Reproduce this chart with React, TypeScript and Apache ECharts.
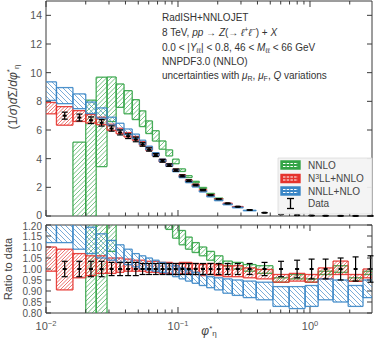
import React, { useEffect, useRef } from "react";
import * as echarts from "echarts";

// ---------------- data ----------------
const binEdges = [0.008, 0.012, 0.016, 0.020, 0.024, 0.029, 0.034, 0.039, 0.045, 0.051, 0.057, 0.064, 0.072, 0.081, 0.091, 0.102, 0.114, 0.128, 0.145, 0.165, 0.189, 0.219, 0.258, 0.312, 0.391, 0.524, 0.695, 0.918, 1.153, 1.496, 1.947, 2.522, 3.277];

const dataValues = [7.2, 7.0, 6.87, 6.68, 6.5, 6.1, 5.83, 5.57, 5.34, 4.99, 4.64, 4.25, 3.85, 3.55, 3.2, 2.8, 2.46, 2.16, 1.81, 1.46, 1.18, 0.88, 0.65, 0.42, 0.23, 0.12, 0.06, 0.035, 0.02, 0.012, 0.007, 0.004];
const dataRelErr = [0.035, 0.035, 0.035, 0.035, 0.035, 0.03, 0.03, 0.03, 0.03, 0.025, 0.025, 0.025, 0.025, 0.025, 0.025, 0.025, 0.025, 0.025, 0.025, 0.025, 0.025, 0.025, 0.025, 0.025, 0.03, 0.035, 0.04, 0.045, 0.045, 0.05, 0.055, 0.06];

// ratios to data (band low / high)
const nnloLow = [null, null, -1.0, -1.0, 0.53, 1.08, 1.30, 1.28, 1.26, 1.25, 1.24, 1.23, 1.21, 1.18, 1.14, 1.11, 1.09, 1.075, 1.06, 1.04, 1.02, 1.013, 1.0, 0.99, 0.98, 0.94, 0.955, 0.94, 0.975, 0.985, 0.945, 0.975];
const nnloHigh = [null, null, 0.75, 1.21, 1.49, 1.59, 1.58, 1.57, 1.52, 1.47, 1.43, 1.40, 1.36, 1.30, 1.24, 1.175, 1.145, 1.12, 1.10, 1.08, 1.06, 1.036, 1.03, 1.02, 1.015, 0.96, 0.975, 0.955, 0.99, 1.015, 0.96, 0.99];

const n3llLow = [0.99, 0.905, 0.96, 0.97, 0.98, 0.98, 0.985, 0.99, 0.99, 0.99, 0.985, 0.985, 0.98, 0.98, 0.975, 0.98, 0.98, 0.975, 0.97, 0.975, 0.97, 0.965, 0.965, 0.96, 0.955, 0.94, 0.945, 0.94, 0.955, 0.975, 0.944, 0.96];
const n3llHigh = [1.10, 1.09, 1.07, 1.06, 1.06, 1.05, 1.05, 1.045, 1.04, 1.04, 1.035, 1.035, 1.03, 1.03, 1.025, 1.03, 1.03, 1.025, 1.02, 1.025, 1.02, 1.015, 1.015, 1.005, 0.998, 0.975, 0.98, 0.975, 1.005, 1.036, 0.975, 1.0];

const nnllLow = [1.12, 1.12, 1.09, 1.07, 1.05, 1.04, 1.03, 1.02, 1.01, 1.0, 0.995, 0.99, 0.985, 0.975, 0.965, 0.955, 0.945, 0.935, 0.925, 0.915, 0.905, 0.89, 0.88, 0.87, 0.86, 0.83, 0.82, 0.83, 0.86, 0.85, 0.83, 0.87];
const nnllHigh = [1.30, 1.28, 1.24, 1.19, 1.16, 1.13, 1.11, 1.09, 1.07, 1.06, 1.05, 1.04, 1.03, 1.025, 1.015, 1.005, 0.995, 0.985, 0.975, 0.965, 0.96, 0.955, 0.95, 0.945, 0.94, 0.92, 0.92, 0.925, 0.955, 0.95, 0.925, 0.95];

const topYTicks = [0, 2, 4, 6, 8, 10, 12, 14];
const ratioYTicks = [0.8, 0.85, 0.9, 0.95, 1.0, 1.05, 1.1, 1.15, 1.2];
const xMajorTicks = [0.01, 0.1, 1];
const xMinorTicks = [0.02, 0.03, 0.04, 0.05, 0.06, 0.07, 0.08, 0.09, 0.2, 0.3, 0.4, 0.5, 0.6, 0.7, 0.8, 0.9, 2];

const legendLabels = ["NNLO", "N{sup|3}LL+NNLO", "NNLL+NLO", "Data"];

// ---------------- styling ----------------
const XMIN = 0.01;
const XMAX = 2.95;
const FONT = "Liberation Sans";
const GREEN = "#34a447";
const RED = "#e5332d";
const BLUE = "#3a86c6";
const AXC = "#3a3a3a";

function bandData(low: (number | null)[], high: (number | null)[], scaleByData: boolean) {
  const out: number[][] = [];
  for (let i = 0; i < low.length; i++) {
    const lo = low[i];
    const hi = high[i];
    if (lo === null || hi === null) continue;
    const f = scaleByData ? dataValues[i] : 1;
    out.push([binEdges[i], binEdges[i + 1], lo * f, hi * f]);
  }
  return out;
}

function bandRenderer(color: string, dir: number, step: number) {
  return (params: any, api: any) => {
    const cs = params.coordSys;
    const x0 = api.value(0), x1 = api.value(1), lo = api.value(2), hi = api.value(3);
    const pA = api.coord([x0, hi]);
    const pB = api.coord([x1, lo]);
    const L = cs.x, R = cs.x + cs.width, T = cs.y, B = cs.y + cs.height;
    const xa = Math.max(pA[0], L), xb = Math.min(pB[0], R);
    const ya = Math.max(pA[1], T), yb = Math.min(pB[1], B);
    if (xb - xa < 0.5 || yb - ya < 0.3) return null;
    const children: any[] = [];
    const hs = { stroke: color, lineWidth: 0.8, opacity: 0.85 };
    if (dir === 1) {
      const cMin = xa + ya, cMax = xb + yb;
      for (let c = Math.ceil(cMin / step) * step; c <= cMax; c += step) {
        const a = Math.max(xa, c - yb), b = Math.min(xb, c - ya);
        if (b > a) children.push({ type: "line", shape: { x1: a, y1: c - a, x2: b, y2: c - b }, style: hs, silent: true });
      }
    } else {
      const cMin = xa - yb, cMax = xb - ya;
      for (let c = Math.ceil(cMin / step) * step; c <= cMax; c += step) {
        const a = Math.max(xa, ya + c), b = Math.min(xb, yb + c);
        if (b > a) children.push({ type: "line", shape: { x1: a, y1: a - c, x2: b, y2: b - c }, style: hs, silent: true });
      }
    }
    const es = { stroke: color, lineWidth: 1.3, opacity: 0.9 };
    if (pA[1] >= T - 0.5) children.push({ type: "line", shape: { x1: xa, y1: pA[1], x2: xb, y2: pA[1] }, style: es });
    if (pB[1] <= B + 0.5) children.push({ type: "line", shape: { x1: xa, y1: pB[1], x2: xb, y2: pB[1] }, style: es });
    if (pA[0] >= L) children.push({ type: "line", shape: { x1: pA[0], y1: ya, x2: pA[0], y2: yb }, style: es });
    if (pB[0] <= R) children.push({ type: "line", shape: { x1: pB[0], y1: ya, x2: pB[0], y2: yb }, style: es });
    return { type: "group", children };
  };
}

function pointData(ratio: boolean) {
  const out: number[][] = [];
  for (let i = 0; i < dataValues.length; i++) {
    const xc = Math.sqrt(binEdges[i] * binEdges[i + 1]);
    if (xc < XMIN || xc > XMAX) continue;
    const v = ratio ? 1 : dataValues[i];
    out.push([xc, v, v * dataRelErr[i]]);
  }
  return out;
}

function pointRenderer(params: any, api: any) {
  const xc = api.value(0), v = api.value(1), e = api.value(2);
  const pc = api.coord([xc, v]);
  const pt = api.coord([xc, v + e]);
  const pb = api.coord([xc, v - e]);
  const st = { stroke: "#000", lineWidth: 1.2 };
  const cw = 3;
  return {
    type: "group",
    children: [
      { type: "line", shape: { x1: pc[0], y1: pt[1], x2: pc[0], y2: pb[1] }, style: st },
      { type: "line", shape: { x1: pc[0] - cw, y1: pt[1], x2: pc[0] + cw, y2: pt[1] }, style: st },
      { type: "line", shape: { x1: pc[0] - cw, y1: pb[1], x2: pc[0] + cw, y2: pb[1] }, style: st },
      { type: "rect", shape: { x: pc[0] - 2, y: pc[1] - 1, width: 4, height: 2 }, style: { fill: "#000" } },
    ],
  };
}

function tickData(yTicks: number[], yRef: number) {
  const out: number[][] = [];
  xMajorTicks.forEach((v) => out.push([v, yRef, 0]));
  xMinorTicks.forEach((v) => { if (v <= XMAX) out.push([v, yRef, 1]); });
  yTicks.forEach((v) => out.push([0.1, v, 2]));
  return out;
}

function tickRenderer(params: any, api: any) {
  const cs = params.coordSys;
  const kind = api.value(2);
  const p = api.coord([api.value(0), api.value(1)]);
  const L = cs.x, R = cs.x + cs.width, T = cs.y, B = cs.y + cs.height;
  const st = { stroke: AXC, lineWidth: 1 };
  if (kind < 2) {
    const len = kind === 0 ? 6 : 3.5;
    return {
      type: "group",
      children: [
        { type: "line", shape: { x1: p[0], y1: B, x2: p[0], y2: B - len }, style: st },
        { type: "line", shape: { x1: p[0], y1: T, x2: p[0], y2: T + len }, style: st },
      ],
    };
  }
  const len = 5;
  return {
    type: "group",
    children: [
      { type: "line", shape: { x1: L, y1: p[1], x2: L + len, y2: p[1] }, style: st },
      { type: "line", shape: { x1: R, y1: p[1], x2: R - len, y2: p[1] }, style: st },
    ],
  };
}

const rich = {
  i: { fontStyle: "italic", fontSize: 10, fontFamily: FONT, fill: "#333" },
  sup: { fontSize: 7, verticalAlign: "top", fontFamily: FONT, fill: "#333" },
  sub: { fontSize: 7, verticalAlign: "bottom", fontFamily: FONT, fill: "#333" },
};

function annText(y: number, text: string) {
  return {
    type: "text",
    x: 162,
    y,
    z: 50,
    style: { text, fontSize: 10, fontFamily: FONT, fill: "#333", verticalAlign: "middle", rich, lineHeight: 13 },
  };
}

function legendPatch(y: number, color: string) {
  return [
    { type: "rect", z: 110, shape: { x: 281, y: y - 4, width: 19, height: 8 }, style: { fill: color, stroke: color, lineWidth: 1.4 } },
    { type: "line", z: 111, shape: { x1: 283, y1: y - 1.5, x2: 298, y2: y - 1.5 }, style: { stroke: "#fff", lineWidth: 1, lineDash: [2.5, 1.2] } },
    { type: "line", z: 111, shape: { x1: 283, y1: y + 1.5, x2: 298, y2: y + 1.5 }, style: { stroke: "#fff", lineWidth: 1, lineDash: [2.5, 1.2] } },
  ];
}

function legendText(y: number, text: string) {
  return {
    type: "text",
    x: 308,
    y,
    z: 110,
    style: { text, fontSize: 10, fontFamily: FONT, fill: "#444", verticalAlign: "middle", rich: { sup: { fontSize: 7, verticalAlign: "top", fill: "#444" } }, lineHeight: 12 },
  };
}

function xLabelFormatter(v: number) {
  const l = Math.log10(v);
  const e = Math.round(l);
  if (Math.abs(l - e) > 1e-6) return "";
  return "10{s|" + (e < 0 ? "\u2212" + -e : String(e)) + "}";
}

const mathRich = {
  i: { fontStyle: "italic", fontSize: 12, fontFamily: FONT, fill: "#444" },
  sup: { fontSize: 8, verticalAlign: "top", fill: "#444", fontFamily: FONT },
  sub: { fontSize: 8, verticalAlign: "bottom", fill: "#444", fontFamily: FONT },
};

const option: any = {
  animation: false,
  backgroundColor: "#fff",
  grid: [
    { left: 46, top: 1, width: 326, height: 215, show: true, borderColor: AXC, borderWidth: 1, backgroundColor: "transparent" },
    { left: 46, top: 225, width: 326, height: 88, show: true, borderColor: AXC, borderWidth: 1, backgroundColor: "transparent" },
  ],
  xAxis: [
    { type: "log", gridIndex: 0, min: XMIN, max: XMAX, logBase: 10, axisLine: { show: false }, axisTick: { show: false }, axisLabel: { show: false }, splitLine: { show: false } },
    {
      type: "log", gridIndex: 1, min: XMIN, max: XMAX, logBase: 10,
      axisLine: { show: false }, axisTick: { show: false }, splitLine: { show: false },
      axisLabel: {
        formatter: xLabelFormatter, color: "#555", fontSize: 11, fontFamily: FONT, margin: 6, lineHeight: 14,
        rich: { s: { fontSize: 7.5, verticalAlign: "top", color: "#555", fontFamily: FONT, lineHeight: 14 } },
        showMaxLabel: false,
      },
    },
  ],
  yAxis: [
    {
      type: "value", gridIndex: 0, min: 0, max: 15, interval: 2,
      axisLine: { show: false }, axisTick: { show: false }, splitLine: { show: false },
      axisLabel: {
        color: "#555", fontSize: 10.5, fontFamily: FONT, margin: 4, lineHeight: 10,
        formatter: (v: number) => (v > 14.5 ? "" : v === 0 ? "{z|0}" : String(v)),
        rich: { z: { fontSize: 10.5, color: "#555", fontFamily: FONT, padding: [0, 0, 3, 0], lineHeight: 10 } },
      },
    },
    {
      type: "value", gridIndex: 1, min: 0.8, max: 1.2, interval: 0.05,
      axisLine: { show: false }, axisTick: { show: false }, splitLine: { show: false },
      axisLabel: {
        color: "#555", fontSize: 10, fontFamily: FONT, margin: 4, lineHeight: 10,
        formatter: (v: number) => (Math.abs(v - 1.2) < 1e-6 ? "{t|1.20}" : v.toFixed(2)),
        rich: { t: { fontSize: 10, color: "#555", fontFamily: FONT, padding: [2, 0, 0, 0], lineHeight: 10 } },
      },
    },
  ],
  series: [
    { type: "custom", name: "NNLO", xAxisIndex: 0, yAxisIndex: 0, data: bandData(nnloLow, nnloHigh, true), renderItem: bandRenderer(GREEN, 1, 4.5), z: 2 },
    { type: "custom", name: "N3LL+NNLO", xAxisIndex: 0, yAxisIndex: 0, data: bandData(n3llLow, n3llHigh, true), renderItem: bandRenderer(RED, 1, 3.5), z: 3 },
    { type: "custom", name: "NNLL+NLO", xAxisIndex: 0, yAxisIndex: 0, data: bandData(nnllLow, nnllHigh, true), renderItem: bandRenderer(BLUE, -1, 5), z: 4 },
    { type: "custom", name: "Data", xAxisIndex: 0, yAxisIndex: 0, data: pointData(false), renderItem: pointRenderer, z: 6 },
    { type: "custom", name: "NNLO r", xAxisIndex: 1, yAxisIndex: 1, data: bandData(nnloLow, nnloHigh, false), renderItem: bandRenderer(GREEN, 1, 4.5), z: 2 },
    { type: "custom", name: "N3LL+NNLO r", xAxisIndex: 1, yAxisIndex: 1, data: bandData(n3llLow, n3llHigh, false), renderItem: bandRenderer(RED, 1, 3.5), z: 3 },
    { type: "custom", name: "NNLL+NLO r", xAxisIndex: 1, yAxisIndex: 1, data: bandData(nnllLow, nnllHigh, false), renderItem: bandRenderer(BLUE, -1, 5), z: 4 },
    { type: "custom", name: "Data r", xAxisIndex: 1, yAxisIndex: 1, data: pointData(true), renderItem: pointRenderer, z: 6 },
    { type: "custom", name: "ticks top", xAxisIndex: 0, yAxisIndex: 0, data: tickData(topYTicks, 5), renderItem: tickRenderer, z: 8, silent: true },
    { type: "custom", name: "ticks ratio", xAxisIndex: 1, yAxisIndex: 1, data: tickData(ratioYTicks, 1), renderItem: tickRenderer, z: 8, silent: true },
  ],
  graphic: [
    annText(17, "RadISH+NNLOJET"),
    annText(32, "8 TeV, {i|pp} \u2192 {i|Z}(\u2192 {i|\u2113}{sup|+}{i|\u2113}{sup|\u2212}) + {i|X}"),
    annText(47, "0.0 < |{i|Y}{sub|\u2113\u2113}| < 0.8, 46 < {i|M}{sub|\u2113\u2113} < 66 GeV"),
    annText(61.5, "NNPDF3.0 (NNLO)"),
    annText(75.5, "uncertainties with {i|\u03bc}{sub|R}, {i|\u03bc}{sub|F}, {i|Q} variations"),
    {
      type: "text", x: 13, y: 97, rotation: Math.PI / 2, z: 50,
      style: {
        text: "(1/{i|\u03c3}){i|d}\u03a3/{i|d\u03c6}{sup|*}{sub|\u03b7}", fontSize: 12, fontFamily: FONT, fill: "#444",
        align: "center", verticalAlign: "middle", lineHeight: 15, rich: mathRich,
      },
    },
    {
      type: "text", x: 8, y: 269, rotation: Math.PI / 2, z: 50,
      style: { text: "Ratio to data", fontSize: 11, fontFamily: FONT, fill: "#444", align: "center", verticalAlign: "middle" },
    },
    {
      type: "text", x: 209, y: 330.5, z: 50,
      style: { text: "{i|\u03c6}{sup|*}{sub|\u03b7}", fontSize: 12, fontFamily: FONT, fill: "#444", align: "center", verticalAlign: "middle", lineHeight: 13, rich: mathRich },
    },
    { type: "rect", z: 100, shape: { x: 278, y: 158, width: 94, height: 56 }, style: { fill: "rgba(243,243,243,0.93)", stroke: "rgba(215,215,215,0.9)", lineWidth: 0.8 } },
    ...legendPatch(165, GREEN),
    legendText(165, legendLabels[0]),
    ...legendPatch(178.5, RED),
    legendText(178.5, legendLabels[1]),
    ...legendPatch(191, BLUE),
    legendText(191, legendLabels[2]),
    { type: "line", z: 110, shape: { x1: 290.5, y1: 198.5, x2: 290.5, y2: 208.5 }, style: { stroke: "#000", lineWidth: 1.3 } },
    { type: "line", z: 110, shape: { x1: 287, y1: 198.5, x2: 294, y2: 198.5 }, style: { stroke: "#000", lineWidth: 1.3 } },
    { type: "line", z: 110, shape: { x1: 287, y1: 208.5, x2: 294, y2: 208.5 }, style: { stroke: "#000", lineWidth: 1.3 } },
    legendText(203.5, legendLabels[3]),
  ],
};

export default function App() {
  const ref = useRef<HTMLDivElement>(null);
  useEffect(() => {
    if (!ref.current) return;
    const chart = echarts.init(ref.current, null, { renderer: "svg" });
    chart.setOption(option);
    return () => chart.dispose();
  }, []);
  return <div ref={ref} style={{ position: "fixed", left: 0, top: 0, width: 374, height: 340, background: "#fff" }} />;
}
